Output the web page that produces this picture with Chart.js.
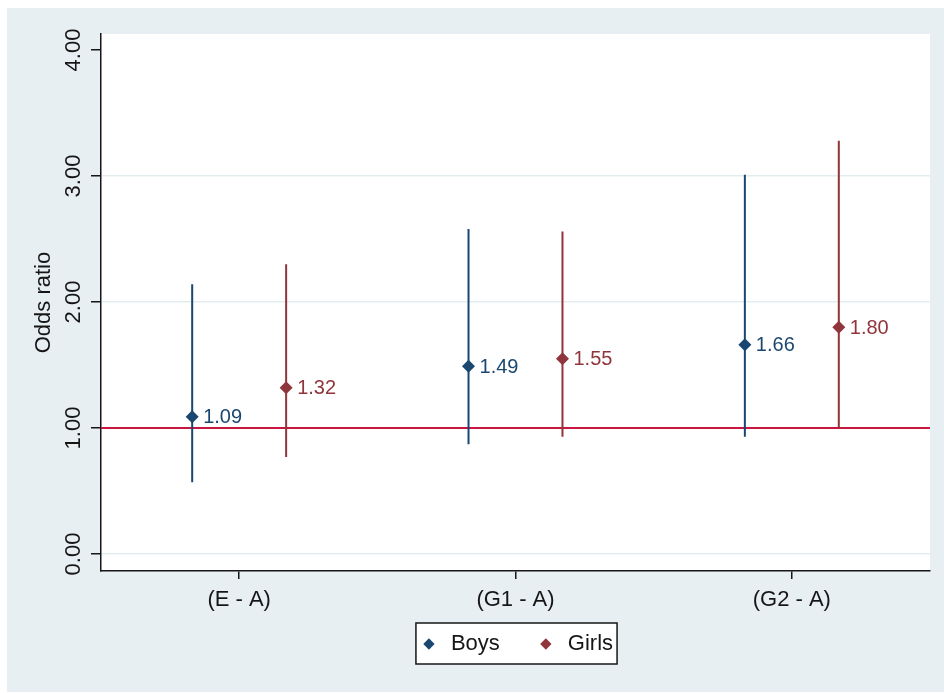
<!DOCTYPE html>
<html>
<head>
<meta charset="utf-8">
<script src="https://cdn.jsdelivr.net/npm/chart.js@4/dist/chart.umd.min.js"></script>
<style>
  html, body { margin: 0; padding: 0; background: #ffffff; }
  #wrap { width: 944px; height: 693px; }
</style>
</head>
<body>
<div id="wrap"><canvas id="c" width="944" height="693"></canvas></div>
<script>
// Comparisons and estimated odds ratios with 95% confidence limits
const categories = ['(E - A)', '(G1 - A)', '(G2 - A)'];
const boysOR    = [1.09, 1.49, 1.66];
const boysLow   = [0.57, 0.87, 0.93];
const boysHigh  = [2.14, 2.58, 3.01];
const girlsOR   = [1.32, 1.55, 1.80];
const girlsLow  = [0.77, 0.93, 1.00];
const girlsHigh = [2.30, 2.56, 3.28];
const yTicks = [0, 1, 2, 3, 4];
const refValue = 1;

const BOYS = '#1a476f';
const GIRLS = '#90353b';
const REF = '#c8163f';
const INK = '#161616';
const FONT = "'Liberation Sans', Arial, sans-serif";

// horizontal placement of each group inside its comparison slot
const boysX = i => i + 1 - 0.17;
const girlsX = i => i + 1 + 0.17;

function points(xf, vals) {
  return vals.map((v, i) => ({ x: xf(i), y: v }));
}
function intervals(xf, lo, hi) {
  const pts = [];
  lo.forEach((l, i) => {
    pts.push({ x: xf(i), y: l }, { x: xf(i), y: hi[i] }, { x: xf(i), y: null });
  });
  return pts;
}

const backdrop = {
  id: 'backdrop',
  // let the category labels overhang the compact x-axis box without being clipped
  afterLayout(chart) {
    const s = chart.scales.x;
    s.bottom = s.top + 48;
  },
  beforeDraw(chart) {
    const { ctx, chartArea: a } = chart;
    ctx.save();
    ctx.fillStyle = '#ffffff';
    ctx.fillRect(0, 0, chart.width, chart.height);
    ctx.fillStyle = '#e8eff2';
    ctx.fillRect(7, 8, chart.width - 7, chart.height - 9);
    ctx.fillStyle = '#ffffff';
    ctx.fillRect(a.left, a.top, a.right - a.left, a.bottom - a.top);
    ctx.restore();
  }
};

const valueLabels = {
  id: 'valueLabels',
  afterDatasetsDraw(chart) {
    const { ctx } = chart;
    ctx.save();
    ctx.font = '20px ' + FONT;
    ctx.textAlign = 'left';
    ctx.textBaseline = 'middle';
    [0, 1].forEach(di => {
      const ds = chart.data.datasets[di];
      chart.getDatasetMeta(di).data.forEach((el, i) => {
        ctx.fillStyle = ds.borderColor;
        ctx.fillText(ds.data[i].y.toFixed(2), el.x + 11, el.y + 1);
      });
    });
    ctx.restore();
  }
};

// white, framed box behind the legend entries
function legendRect(chart) {
  const boxes = chart.legend && chart.legend.legendHitBoxes;
  if (!boxes || !boxes.length) return null;
  const l = Math.min(...boxes.map(b => b.left)) - 2;
  const r = Math.max(...boxes.map(b => b.left + b.width)) + 4;
  const t = Math.min(...boxes.map(b => b.top)) - 10;
  const btm = Math.max(...boxes.map(b => b.top + b.height)) + 9;
  return { l, r, t, btm };
}
const legendFrame = {
  id: 'legendFrame',
  beforeDraw(chart) {
    const f = legendRect(chart);
    if (!f) return;
    const { ctx } = chart;
    ctx.save();
    ctx.fillStyle = '#ffffff';
    ctx.fillRect(f.l, f.t, f.r - f.l, f.btm - f.t);
    ctx.restore();
  },
  afterDraw(chart) {
    const f = legendRect(chart);
    if (!f) return;
    const { ctx } = chart;
    ctx.save();
    ctx.strokeStyle = INK;
    ctx.lineWidth = 1.5;
    ctx.strokeRect(f.l, f.t, f.r - f.l, f.btm - f.t);
    ctx.restore();
  }
};

new Chart(document.getElementById('c'), {
  type: 'scatter',
  data: {
    datasets: [
      {
        label: 'Boys', data: points(boysX, boysOR),
        backgroundColor: BOYS, borderColor: BOYS,
        pointStyle: 'rectRot', pointRadius: 6.5, borderWidth: 0
      },
      {
        label: 'Girls', data: points(girlsX, girlsOR),
        backgroundColor: GIRLS, borderColor: GIRLS,
        pointStyle: 'rectRot', pointRadius: 6.5, borderWidth: 0
      },
      {
        label: 'Boys CI', data: intervals(boysX, boysLow, boysHigh),
        showLine: true, spanGaps: false, borderColor: BOYS, borderWidth: 2, pointRadius: 0
      },
      {
        label: 'Girls CI', data: intervals(girlsX, girlsLow, girlsHigh),
        showLine: true, spanGaps: false, borderColor: GIRLS, borderWidth: 2, pointRadius: 0
      },
      {
        label: 'Reference', data: [{ x: 0.5, y: refValue }, { x: 3.5, y: refValue }],
        showLine: true, borderColor: REF, borderWidth: 2, pointRadius: 0
      }
    ]
  },
  options: {
    responsive: false,
    animation: false,
    devicePixelRatio: 1,
    layout: { padding: { left: 7, top: 34, right: 14, bottom: 28 } },
    scales: {
      x: {
        type: 'linear', min: 0.5, max: 3.5,
        afterBuildTicks: s => { s.ticks = categories.map((_, i) => ({ value: i + 1 })); },
        afterFit: s => { s.height = 27; },
        grid: { drawOnChartArea: false, tickColor: INK, tickLength: 8, lineWidth: 1.5 },
        border: { color: INK, width: 1.5 },
        ticks: {
          color: INK, font: { family: FONT, size: 22 }, padding: 8,
          autoSkip: false, minRotation: 0, maxRotation: 0,
          callback: v => categories[Math.round(v) - 1]
        }
      },
      y: {
        min: -0.135, max: 4.127,
        afterBuildTicks: s => { s.ticks = yTicks.map(v => ({ value: v })); },
        afterFit: s => { s.width = 94; },
        grid: {
          color: c => (c.tick && c.tick.value === 4) ? 'rgba(0,0,0,0)' : '#e3edf0',
          lineWidth: 1.5, tickColor: INK, tickLength: 10
        },
        border: { color: INK, width: 1.5 },
        ticks: {
          color: INK, font: { family: FONT, size: 22 },
          minRotation: 90, maxRotation: 90, crossAlign: 'center', padding: -4,
          callback: v => Number(v).toFixed(2)
        },
        title: {
          display: true, text: 'Odds ratio', color: INK,
          font: { family: FONT, size: 22 }, padding: { top: 24, bottom: 0 }
        }
      }
    },
    plugins: {
      tooltip: { enabled: false },
      legend: {
        position: 'bottom',
        fullSize: false,
        labels: {
          filter: item => item.datasetIndex < 2,
          usePointStyle: true, boxWidth: 22, boxHeight: 8, padding: 35,
          color: INK, font: { family: FONT, size: 22 }
        }
      }
    }
  },
  plugins: [backdrop, valueLabels, legendFrame]
});
</script>
</body>
</html>
